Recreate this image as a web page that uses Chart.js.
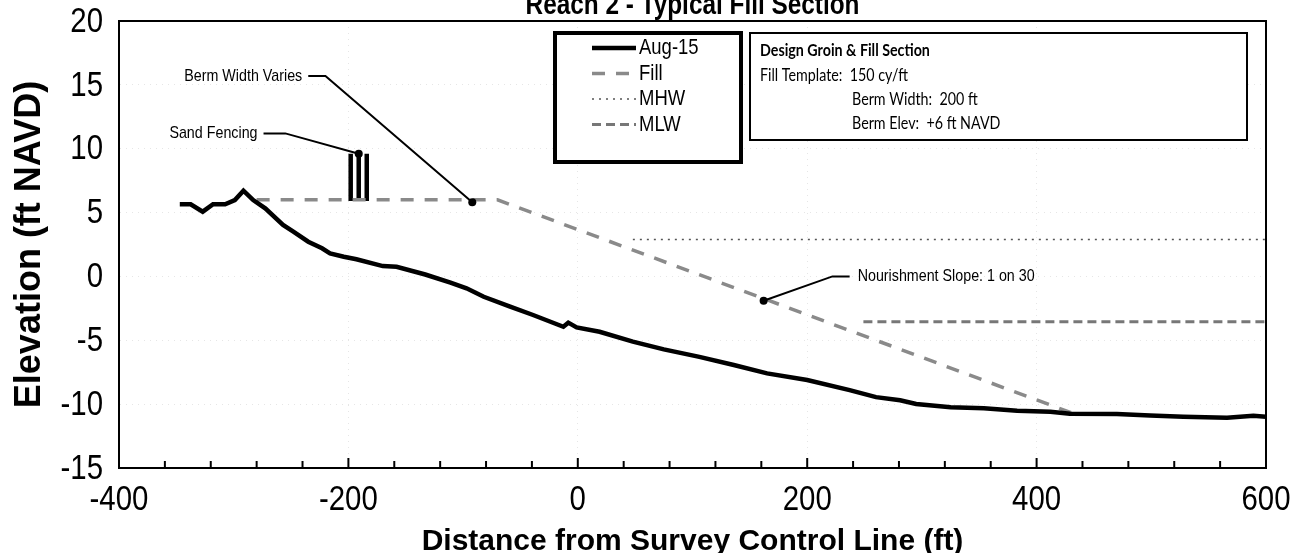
<!DOCTYPE html>
<html>
<head>
<meta charset="utf-8">
<script src="https://cdn.jsdelivr.net/npm/chart.js@4.4.1/dist/chart.umd.min.js"></script>
<style>
  html, body { margin: 0; padding: 0; background: #fff; }
</style>
</head>
<body>
<canvas id="chart" width="1300" height="553"></canvas>
<script>
// Aug-15 survey profile
const profileX = [-347, -337.5, -327, -318, -307.5, -299, -291.5, -283, -272.5, -257, -248, -235, -223, -216, -204, -193, -170, -158, -133, -111, -97, -82, -59, -39, -12.6, -8.3, -1, 19, 48, 75, 106, 136, 165, 200, 237, 260, 281, 295, 325, 354, 383, 412, 429, 470, 499, 528, 566, 589, 600];
const profileY = [5.65, 5.65, 5.07, 5.65, 5.65, 5.98, 6.71, 5.98, 5.33, 4.03, 3.5, 2.72, 2.2, 1.81, 1.54, 1.34, 0.81, 0.76, 0.15, -0.49, -0.93, -1.59, -2.37, -3.02, -3.94, -3.62, -3.99, -4.33, -5.11, -5.71, -6.3, -6.94, -7.59, -8.11, -8.9, -9.45, -9.7, -9.99, -10.25, -10.33, -10.52, -10.6, -10.75, -10.78, -10.88, -10.99, -11.06, -10.91, -10.99];

// design fill template (berm +6, slope 1 on 30)
const fillX = [-280, -70, 430];
const fillY = [6, 6, -10.67];

// tidal datums
const mhwX = [48, 600];
const mhwY = [2.9, 2.9];
const mlwX = [249, 600];
const mlwY = [-3.55, -3.55];

// sand fencing posts
const fenceX = [-198, -191, -184];
const fenceBottom = [5.9, 5.9, 5.9];
const fenceTop = [9.6, 9.6, 9.6];

// callouts: text, target point, elbow point, start of leader (data units)
const calloutText = ['Sand Fencing', 'Berm Width Varies', 'Nourishment Slope: 1 on 30'];
const calloutTargetX = [-191, -92, 162];
const calloutTargetY = [9.6, 5.8, -1.9];
const calloutElbowX = [-255, -220, 222];
const calloutElbowY = [11.2, 15.7, 0];
const calloutStartX = [-274, -235, 237];

const infoLines = ['Design Groin & Fill Section', 'Fill Template:  150 cy/ft', 'Berm Width:  200 ft', 'Berm Elev:  +6 ft NAVD'];

const xTicks = [-400, -200, 0, 200, 400, 600];
const yTicks = [-15, -10, -5, 0, 5, 10, 15, 20];

function pts(xs, ys) {
  return xs.map((x, i) => ({ x: x, y: ys[i] }));
}

const FONT = "'Liberation Sans', Arial, sans-serif";
const SQUEEZE = 0.84;

// fence posts as one line with gaps between the posts
let fencePts = [];
fenceX.forEach((x, i) => {
  fencePts.push({ x: x, y: fenceBottom[i] }, { x: x, y: fenceTop[i] }, { x: x, y: null });
});

const datasets = [
  { label: 'Aug-15', data: pts(profileX, profileY), borderColor: '#000', borderWidth: 4.5, legend: true },
  { label: 'Fill', data: pts(fillX, fillY), borderColor: '#8a8a8a', borderWidth: 3.5, borderDash: [13, 11], legend: true },
  { label: 'MHW', data: pts(mhwX, mhwY), borderColor: '#555', borderWidth: 1.5, borderDash: [2, 5], legend: true },
  { label: 'MLW', data: pts(mlwX, mlwY), borderColor: '#777', borderWidth: 3, borderDash: [9, 5], legend: true },
  { label: 'fence', data: fencePts, borderColor: '#000', borderWidth: 4.5, spanGaps: false }
];

// text squeezed sideways like the scanned original
function squeezed(ctx, txt, x, y, align) {
  ctx.save();
  ctx.translate(x, y);
  ctx.scale(SQUEEZE, 1);
  ctx.textAlign = align;
  ctx.fillText(txt, 0, 0);
  ctx.restore();
}

const decor = {
  id: 'decor',
  afterDatasetsDraw(chart) {
    const { ctx, chartArea: a, scales: { x, y } } = chart;
    ctx.save();

    // frame
    ctx.strokeStyle = '#000';
    ctx.lineWidth = 2;
    ctx.strokeRect(a.left, a.top, a.right - a.left, a.bottom - a.top);

    // inward tick marks on the distance axis
    x.ticks.forEach(t => {
      const px = x.getPixelForValue(t.value);
      const len = t.value % 200 === 0 ? 10 : 7;
      ctx.beginPath();
      ctx.moveTo(px, a.bottom);
      ctx.lineTo(px, a.bottom - len);
      ctx.stroke();
    });

    // tick labels, placed by the scales
    ctx.fillStyle = '#000';
    ctx.font = '35px ' + FONT;
    ctx.textBaseline = 'middle';
    yTicks.forEach(v => squeezed(ctx, String(v), a.left - 16, y.getPixelForValue(v) + 1, 'right'));
    xTicks.forEach(v => squeezed(ctx, String(v), x.getPixelForValue(v), 500, 'center'));

    // callouts
    ctx.font = '17px ' + FONT;
    calloutText.forEach((txt, i) => {
      const sx = x.getPixelForValue(calloutStartX[i]);
      const ex = x.getPixelForValue(calloutElbowX[i]);
      const ey = y.getPixelForValue(calloutElbowY[i]);
      const tx = x.getPixelForValue(calloutTargetX[i]);
      const ty = y.getPixelForValue(calloutTargetY[i]);
      ctx.lineWidth = 2;
      ctx.beginPath();
      ctx.moveTo(sx, ey);
      ctx.lineTo(ex, ey);
      ctx.lineTo(tx, ty);
      ctx.stroke();
      ctx.beginPath();
      ctx.arc(tx, ty, 4, 0, Math.PI * 2);
      ctx.fill();
      if (sx < ex) squeezed(ctx, txt, sx - 6, ey, 'right');
      else squeezed(ctx, txt, sx + 8, ey, 'left');
    });

    // legend box
    ctx.fillStyle = '#fff';
    ctx.fillRect(555, 33, 186, 129);
    ctx.lineWidth = 4;
    ctx.strokeStyle = '#000';
    ctx.strokeRect(555, 33, 186, 129);
    ctx.font = '22px ' + FONT;
    ctx.fillStyle = '#000';
    chart.data.datasets.filter(d => d.legend).forEach((d, i) => {
      const ly = 48 + i * 25.5;
      ctx.save();
      ctx.strokeStyle = d.borderColor;
      ctx.lineWidth = d.borderWidth;
      ctx.setLineDash(d.borderDash || []);
      ctx.beginPath();
      ctx.moveTo(592, ly);
      ctx.lineTo(636, ly);
      ctx.stroke();
      ctx.restore();
      squeezed(ctx, d.label, 639, ly, 'left');
    });

    // design info box
    ctx.fillStyle = '#fff';
    ctx.fillRect(750, 33, 497, 107);
    ctx.lineWidth = 2;
    ctx.strokeRect(750, 33, 497, 107);
    ctx.fillStyle = '#000';
    ctx.font = "bold 17px Lato, 'Open Sans', sans-serif";
    squeezed(ctx, infoLines[0], 760, 51, 'left');
    ctx.font = "17px Lato, 'Open Sans', sans-serif";
    squeezed(ctx, infoLines[1], 760, 76, 'left');
    squeezed(ctx, infoLines[2], 852, 100, 'left');
    squeezed(ctx, infoLines[3], 852, 124, 'left');

    // chart title, cut by the top edge
    ctx.font = 'bold 29px ' + FONT;
    ctx.textBaseline = 'alphabetic';
    squeezed(ctx, 'Reach 2 - Typical Fill Section', (a.left + a.right) / 2, 14, 'center');

    ctx.restore();
  }
};

new Chart(document.getElementById('chart'), {
  type: 'line',
  data: { datasets: datasets },
  options: {
    responsive: false,
    animation: false,
    layout: { padding: { top: 21, right: 34, left: 0, bottom: 0 } },
    plugins: { legend: { display: false }, tooltip: { enabled: false } },
    elements: { point: { radius: 0 }, line: { tension: 0 } },
    scales: {
      x: {
        type: 'linear',
        min: -400,
        max: 600,
        afterFit: s => { s.height = 85; s.paddingLeft = 0; s.paddingRight = 0; },
        ticks: { stepSize: 40, autoSkip: false, maxRotation: 0, display: false },
        grid: {
          drawTicks: false,
          color: c => (c.tick && xTicks.includes(c.tick.value) && c.tick.value > -400 && c.tick.value < 600) ? '#e6e6e6' : 'rgba(0,0,0,0)',
          lineWidth: 1
        },
        border: { color: '#000', width: 2, dash: [1, 5] },
        title: {
          display: true,
          text: 'Distance from Survey Control Line (ft)',
          color: '#000',
          font: { family: FONT, size: 30, weight: 'bold', lineHeight: 0.75 },
          padding: { top: 0, bottom: 0 }
        }
      },
      y: {
        min: -15,
        max: 20,
        afterFit: s => { s.width = 119; s.paddingTop = 0; s.paddingBottom = 0; },
        ticks: { stepSize: 5, display: false },
        grid: {
          drawTicks: false,
          color: c => (c.tick && c.tick.value > -15 && c.tick.value < 20) ? '#e6e6e6' : 'rgba(0,0,0,0)',
          lineWidth: 1
        },
        border: { color: '#000', width: 2, dash: [1, 5] },
        title: {
          display: true,
          text: 'Elevation (ft NAVD)',
          color: '#000',
          font: { family: FONT, size: 36, weight: 'bold', lineHeight: 1 },
          padding: { top: 12, bottom: 0 }
        }
      }
    }
  },
  plugins: [decor]
});
</script>
</body>
</html>
